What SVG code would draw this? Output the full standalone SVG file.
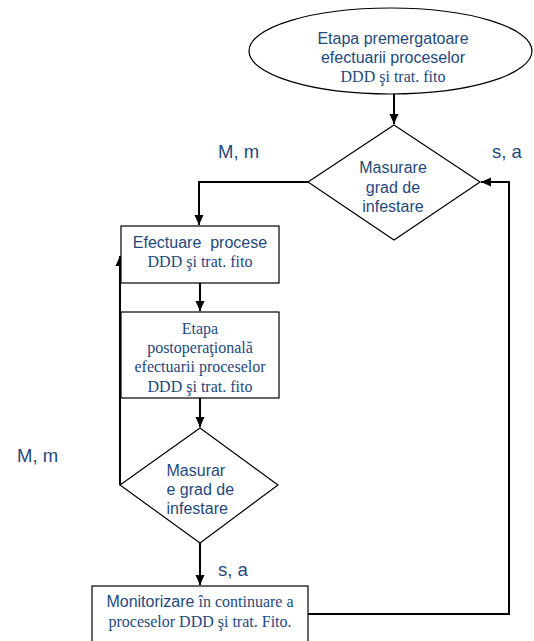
<svg xmlns="http://www.w3.org/2000/svg" width="534" height="641" viewBox="0 0 534 641">
<defs>
<marker id="arr" markerUnits="userSpaceOnUse" markerWidth="10" markerHeight="10" viewBox="0 0 10 10" refX="10" refY="5" orient="auto">
<path d="M0,0.5 L10,5 L0,9.5 Z" fill="#000"/>
</marker>
<style>
.sh{fill:#fff;stroke:#000;stroke-width:1.2}
.cn{fill:none;stroke:#000;stroke-width:2}
.sa{font-family:"Liberation Sans",Arial,sans-serif;font-size:16px;fill:#1F497D;text-anchor:middle}
.se{font-family:"Liberation Serif","Times New Roman",serif;font-size:16px;fill:#1F497D;text-anchor:middle}
.lb{font-family:"Liberation Sans",Arial,sans-serif;font-size:18.5px;fill:#1F497D}
</style>
</defs>
<rect width="534" height="641" fill="#fff"/>
<g id="connectors">
<path class="cn" d="M394,94 V124" marker-end="url(#arr)"/>
<path class="cn" d="M308,182 H199 V225" marker-end="url(#arr)"/>
<path class="cn" d="M200,283 V311" marker-end="url(#arr)"/>
<path class="cn" d="M200,398 V427" marker-end="url(#arr)"/>
<path class="cn" d="M120,485 V256" marker-end="url(#arr)"/>
<path class="cn" d="M200,543 V585" marker-end="url(#arr)"/>
<path class="cn" d="M308,614 H509 V182 H481" marker-end="url(#arr)"/>
</g>
<g id="start">
<ellipse class="sh" cx="390.5" cy="51" rx="141.5" ry="43"/>
<text class="sa" x="393" y="44">Etapa premergatoare</text>
<text class="sa" x="393" y="63">efectuarii proceselor</text>
<text class="se" x="393" y="82">DDD şi trat. fito</text>
</g>
<g id="decision1">
<polygon class="sh" points="394,125 480,182 394,240 308,182"/>
<text class="sa" x="393" y="173">Masurare</text>
<text class="sa" x="393" y="192.5">grad de</text>
<text class="sa" x="393" y="212">infestare</text>
</g>
<g id="label-mm-top"><text class="lb" x="218" y="158">M, m</text></g>
<g id="label-sa-top"><text class="lb" x="492" y="158">s, a</text></g>
<g id="process1">
<rect class="sh" x="121" y="226" width="158" height="57"/>
<text class="sa" x="200" y="248" xml:space="preserve">Efectuare  procese</text>
<text class="se" x="200" y="267">DDD şi trat. fito</text>
</g>
<g id="process2">
<rect class="sh" x="121" y="312" width="158" height="86"/>
<text class="se" x="200" y="334">Etapa</text>
<text class="se" x="200" y="353">postoperaţională</text>
<text class="se" x="200" y="372">efectuarii proceselor</text>
<text class="se" x="200" y="391.5">DDD şi trat. fito</text>
</g>
<g id="decision2">
<polygon class="sh" points="200,428 278,485 200,543 120,485"/>
<text class="sa" x="166.5" y="476" style="text-anchor:start">Masurar</text>
<text class="sa" x="166.5" y="495" style="text-anchor:start">e grad de</text>
<text class="sa" x="166.5" y="514" style="text-anchor:start">infestare</text>
</g>
<g id="label-mm-left"><text class="lb" x="17" y="462">M, m</text></g>
<g id="label-sa-bottom"><text class="lb" x="218" y="576">s, a</text></g>
<g id="monitor">
<rect class="sh" x="92" y="586" width="216" height="60"/>
<text class="se" x="200" y="607"><tspan style="font-family:'Liberation Sans',Arial,sans-serif">Monitorizare</tspan> în continuare a</text>
<text class="se" x="200" y="627">proceselor DDD şi trat. Fito.</text>
</g>
</svg>
